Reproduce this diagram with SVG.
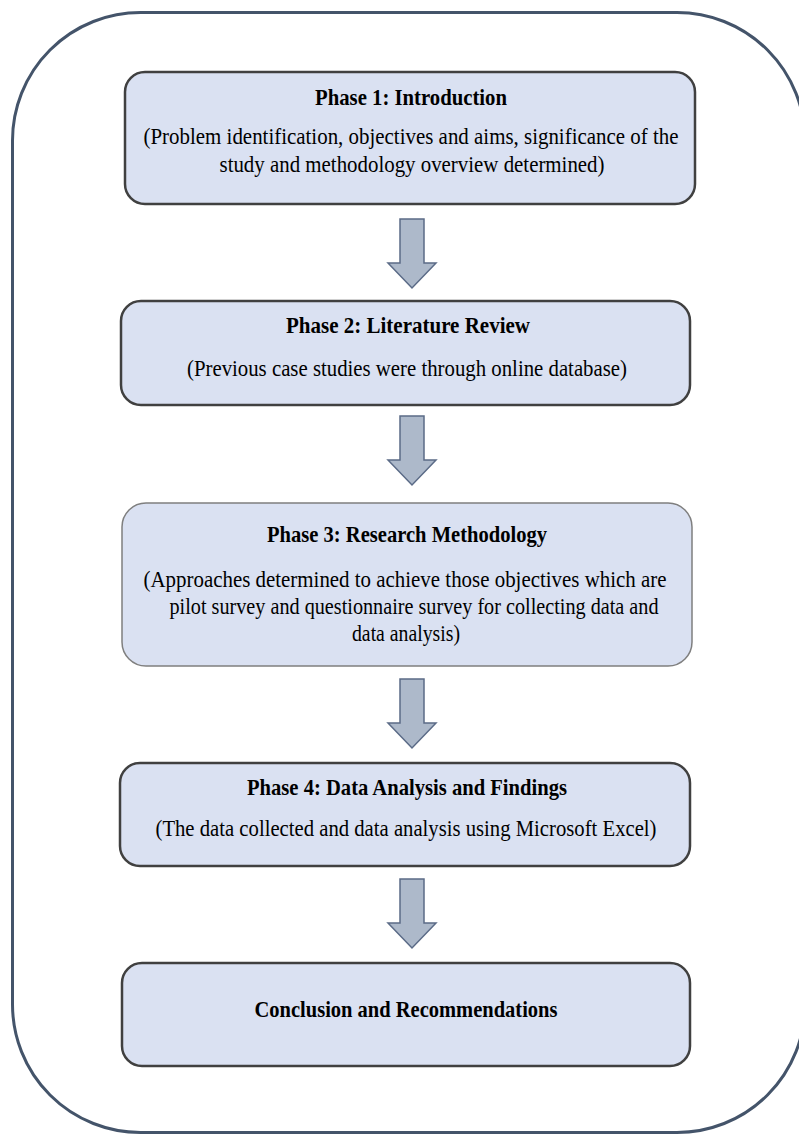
<svg xmlns="http://www.w3.org/2000/svg" width="799" height="1135" viewBox="0 0 799 1135">
<style>
.frame{fill:none;stroke:#44546a;stroke-width:3}
.box{fill:#dae1f2;stroke:#404040;stroke-width:2.5}
.box.light{stroke:#7f7f7f;stroke-width:1.5}
.t{font-family:"Liberation Serif","Times New Roman",serif;font-size:23px;fill:#000;text-anchor:middle}
.b{font-weight:bold}
.arrow{fill:#adb9ca;stroke:#5b6b87;stroke-width:1.5;stroke-linejoin:miter}
</style>
<defs>
<path id="arr" d="M-12,0 H12 V44 H24 L0,69 L-24,44 H-12 Z"/>
</defs>
<rect class="frame" x="12.5" y="12.5" width="792.5" height="1120" rx="128" ry="128"/>
<g id="connectors">
<use href="#arr" class="arrow" x="412" y="219"/>
<use href="#arr" class="arrow" x="412" y="416"/>
<use href="#arr" class="arrow" x="412" y="679"/>
<use href="#arr" class="arrow" x="412" y="879"/>
</g>
<g id="phase1">
<rect class="box" x="125" y="72" width="570" height="132" rx="20"/>
<text class="t b" x="411" y="105" textLength="192" lengthAdjust="spacingAndGlyphs">Phase 1: Introduction</text>
<text class="t" x="411" y="144" textLength="535" lengthAdjust="spacingAndGlyphs">(Problem identification, objectives and aims, significance of the</text>
<text class="t" x="412" y="172" textLength="385" lengthAdjust="spacingAndGlyphs">study and methodology overview determined)</text>
</g>
<g id="phase2">
<rect class="box" x="121" y="301" width="569" height="104" rx="20"/>
<text class="t b" x="408" y="333" textLength="244" lengthAdjust="spacingAndGlyphs">Phase 2: Literature Review</text>
<text class="t" x="407" y="376" textLength="440" lengthAdjust="spacingAndGlyphs">(Previous case studies were through online database)</text>
</g>
<g id="phase3">
<rect class="box light" x="122" y="503" width="570" height="163" rx="24"/>
<text class="t b" x="407" y="542" textLength="280" lengthAdjust="spacingAndGlyphs">Phase 3: Research Methodology</text>
<text class="t" x="405" y="587" textLength="523" lengthAdjust="spacingAndGlyphs">(Approaches determined to achieve those objectives which are</text>
<text class="t" x="414" y="614" textLength="489" lengthAdjust="spacingAndGlyphs">pilot survey and questionnaire survey for collecting data and</text>
<text class="t" x="406" y="641" textLength="108" lengthAdjust="spacingAndGlyphs">data analysis)</text>
</g>
<g id="phase4">
<rect class="box" x="120" y="763" width="570" height="103" rx="20"/>
<text class="t b" x="407" y="795" textLength="320" lengthAdjust="spacingAndGlyphs">Phase 4: Data Analysis and Findings</text>
<text class="t" x="406" y="836" textLength="501" lengthAdjust="spacingAndGlyphs">(The data collected and data analysis using Microsoft Excel)</text>
</g>
<g id="conclusion">
<rect class="box" x="122" y="963" width="568" height="103" rx="20"/>
<text class="t b" x="406" y="1017" textLength="303" lengthAdjust="spacingAndGlyphs">Conclusion and Recommendations</text>
</g>
</svg>
